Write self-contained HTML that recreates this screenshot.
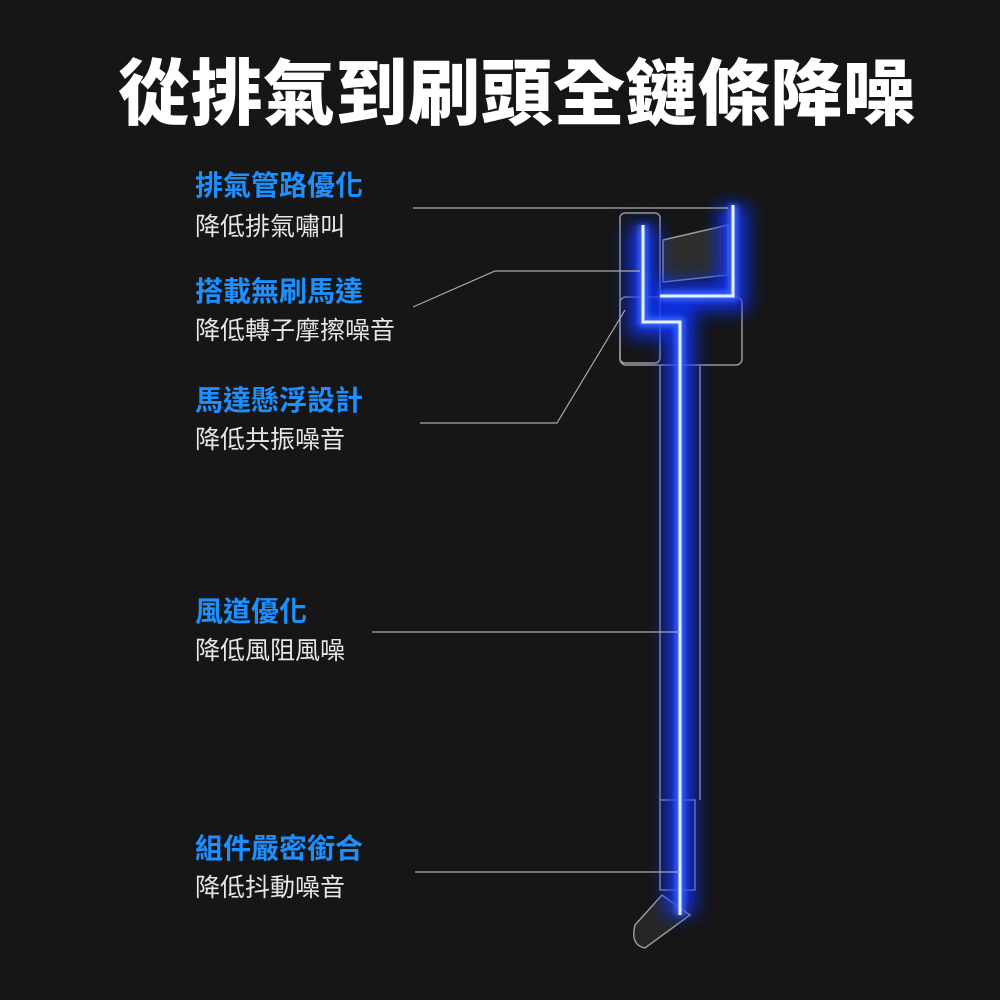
<!DOCTYPE html>
<html><head><meta charset="utf-8"><style>
body{margin:0;background:#161616;}
.w{position:relative;width:1000px;height:1000px;overflow:hidden;background:#161616;font-family:"Liberation Sans","Noto Sans CJK TC",sans-serif;}
.t{position:absolute;left:118px;top:50px;color:#fff;font-size:72px;font-weight:900;letter-spacing:0.5px;white-space:nowrap;line-height:90px;}
.h{position:absolute;left:195px;color:#1e8fff;font-size:28px;font-weight:700;line-height:34px;white-space:nowrap;}
.s{position:absolute;left:195px;color:#e6e6e6;font-size:25px;line-height:30px;white-space:nowrap;}
svg{position:absolute;left:0;top:0}
</style></head><body><div class="w">
<svg width="1000" height="1000">
<defs><filter id="g" x="-50%" y="-50%" width="200%" height="200%"><feGaussianBlur stdDeviation="9"/></filter>
<filter id="g2" x="-50%" y="-50%" width="200%" height="200%"><feGaussianBlur stdDeviation="3"/></filter></defs>
<g fill="none" stroke="#bbb" stroke-width="1.5" opacity="0.8">
<rect x="620" y="213" width="40" height="150" rx="5"/>
<rect x="620" y="297" width="122" height="68" rx="6"/>
<path d="M660 365 V800 M700 365 V800"/>
<rect x="660" y="800" width="35" height="90"/>
<path d="M662 895 L635 925 Q630 945 645 948 L690 915 Z" fill="#2a2a2a"/>
<path d="M663 240 L728 225 V275 L663 282 Z" fill="#333"/>
</g>
<g stroke="#1030ff" stroke-width="30" fill="none" filter="url(#g)" opacity="0.85">
<path d="M643 225 V322 H680 V915"/><path d="M733 205 V296 H660"/>
</g>
<g stroke="#3a6bff" stroke-width="9" fill="none" filter="url(#g2)">
<path d="M643 225 V322 H680 V915"/><path d="M733 205 V296 H660"/>
</g>
<g stroke="#e8f0ff" stroke-width="3" fill="none">
<path d="M643 225 V322 H680 V915"/><path d="M733 205 V296 H660"/>
</g>
<g stroke="#aaa" stroke-width="1.2" fill="none">
<path d="M413 208 H728"/>
<path d="M413 307 L495 271 H640"/>
<path d="M420 423 H557 L625 310"/>
<path d="M372 632 H680"/>
<path d="M415 872 H680"/>
</g>
</svg>
<div class="t">從排氣到刷頭全鏈條降噪</div>
<div class="h" style="top:169px">排氣管路優化</div><div class="s" style="top:212px">降低排氣嘯叫</div>
<div class="h" style="top:275px">搭載無刷馬達</div><div class="s" style="top:316px">降低轉子摩擦噪音</div>
<div class="h" style="top:384px">馬達懸浮設計</div><div class="s" style="top:425px">降低共振噪音</div>
<div class="h" style="top:595px">風道優化</div><div class="s" style="top:636px">降低風阻風噪</div>
<div class="h" style="top:832px">組件嚴密銜合</div><div class="s" style="top:873px">降低抖動噪音</div>
</div></body></html>
